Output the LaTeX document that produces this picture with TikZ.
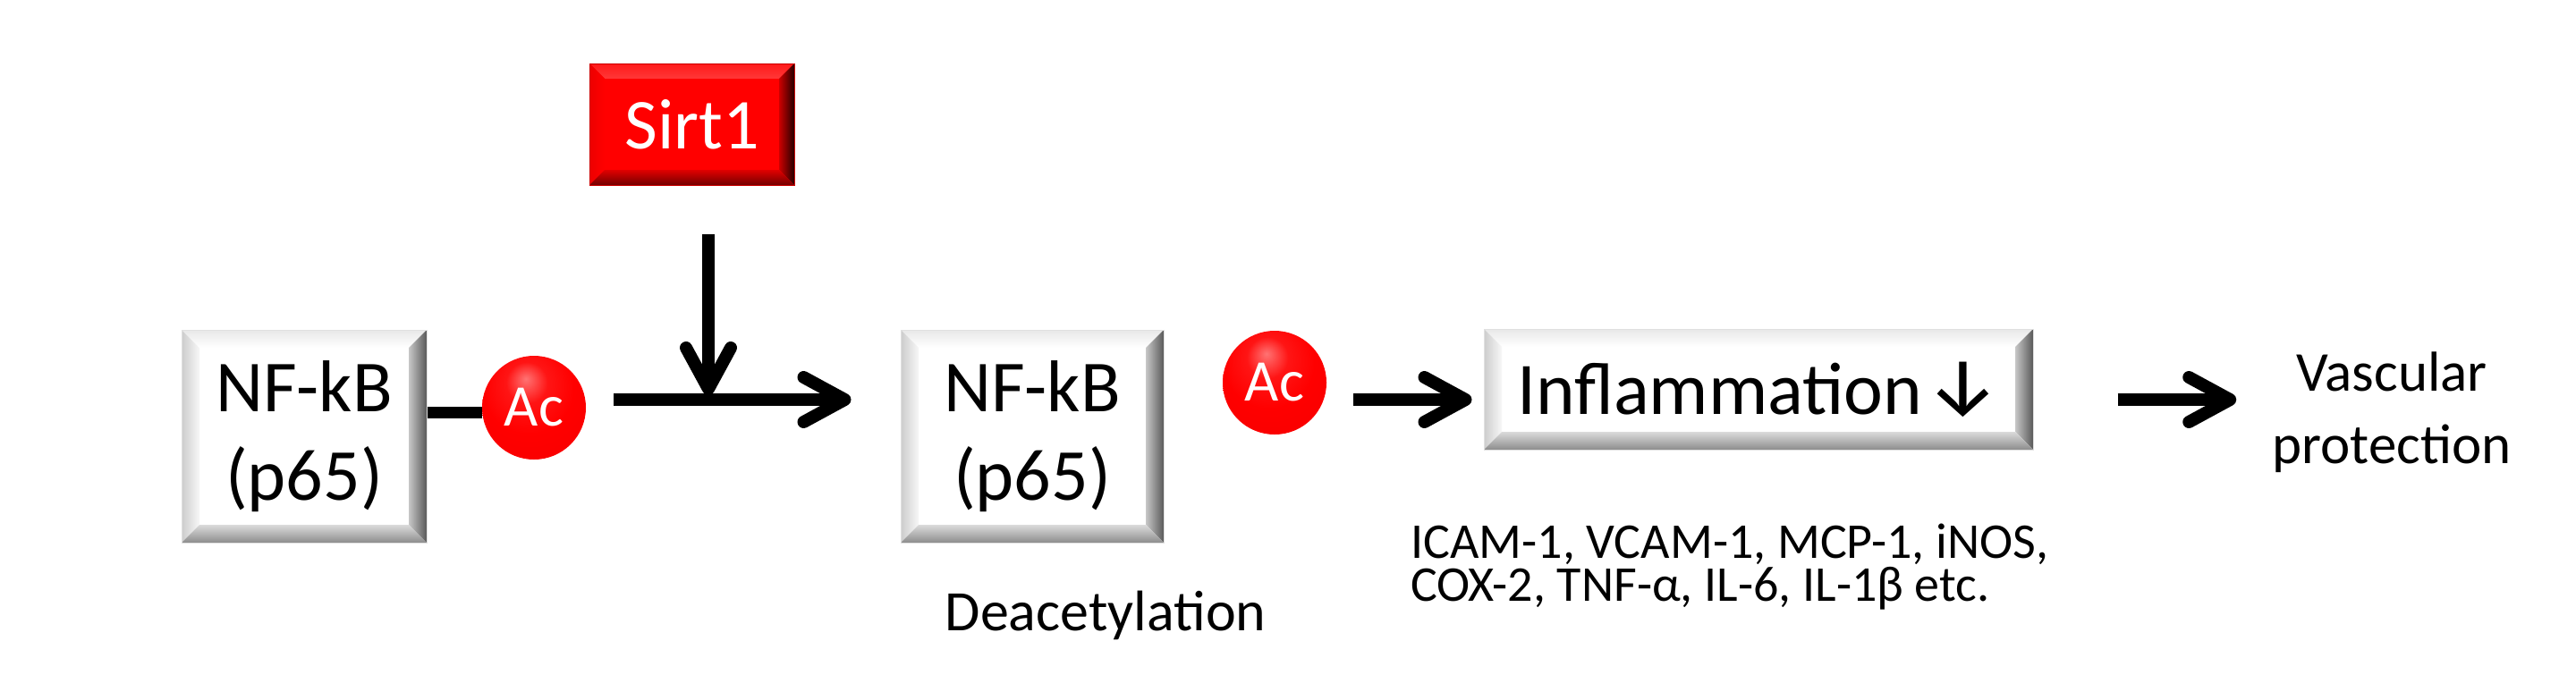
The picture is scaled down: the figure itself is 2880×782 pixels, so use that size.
\documentclass[tikz,border=0pt]{standalone}
\usepackage{fontspec}
\setmainfont{Carlito}
\newfontfamily\symfont{Fira Sans}
\usetikzlibrary{arrows.meta,calc,shadings}
\definecolor{redface}{HTML}{FF0000}
\pgfdeclareradialshading{acshade}{\pgfpoint{-4bp}{14bp}}{%
  color(0bp)=(red!55!white); color(10bp)=(red!92!white); color(22bp)=(red);
  color(44bp)=(red!96!black); color(58bp)=(red!72!black); color(70bp)=(red!55!black)}
\newcommand\drawbevels[9]{%
  \coordinate (bvNW) at (path picture bounding box.north west);
  \coordinate (bvNE) at (path picture bounding box.north east);
  \coordinate (bvSW) at (path picture bounding box.south west);
  \coordinate (bvSE) at (path picture bounding box.south east);
  \coordinate (bvnw) at ([shift={(#1,-#1)}]bvNW);
  \coordinate (bvne) at ([shift={(-#1,-#1)}]bvNE);
  \coordinate (bvsw) at ([shift={(#1,#1)}]bvSW);
  \coordinate (bvse) at ([shift={(-#1,#1)}]bvSE);
  \shade[top color=#2, bottom color=#3] (bvNW) -- (bvNE) -- (bvne) -- (bvnw) -- cycle;
  \shade[left color=#4, right color=#5] (bvNW) -- (bvnw) -- (bvsw) -- (bvSW) -- cycle;
  \shade[left color=#7, right color=#6] (bvNE) -- (bvSE) -- (bvse) -- (bvne) -- cycle;
  \shade[top color=#9, bottom color=#8] (bvSW) -- (bvsw) -- (bvse) -- (bvSE) -- cycle;
}
\tikzset{
  graybox/.style={rectangle, inner sep=0pt, fill=white, draw=black!12, line width=1pt,
    align=center, font=\fontsize{82}{99}\selectfont,
    path picture={\drawbevels{20pt}{black!9}{white}{black!20}{black!3}{black!65}{black!22}{black!45}{black!14}}},
  redbox/.style={rectangle, inner sep=0pt, fill=redface, draw=red!80!black, line width=1pt,
    text=white, font=\fontsize{80}{96}\selectfont,
    path picture={\drawbevels{17pt}{red!90!white}{red!78!white}{red!93!black}{red}{red!15!black}{red!80!black}{red!45!black}{red!88!black}}},
  acball/.style={circle, minimum size=116pt, inner sep=0pt, shading=acshade,
    text=white, font=\fontsize{66}{72}\selectfont},
  arr/.style={line width=14pt, -{Straight Barb[length=46pt, width=50pt, round]}},
  bar/.style={line width=13pt},
  lbl/.style={inner sep=0pt, font=\fontsize{63}{78}\selectfont},
  small/.style={inner sep=0pt, align=left, font=\fontsize{56}{48}\selectfont},
}
\begin{document}
\begin{tikzpicture}[x=1pt, y=1pt]
\useasboundingbox (0,0) rectangle (2880,-782);
% boxes
\node[redbox, minimum width=229pt, minimum height=136pt] (sirt) at (773.5,-139) {Sirt1};
\node[graybox, minimum width=274pt, minimum height=238pt] (nf1) at (340,-488) {NF-kB\\(p65)};
\node[graybox, minimum width=294pt, minimum height=238pt] (nf2) at (1154,-488) {NF-kB\\(p65)};
\node[graybox, minimum width=614pt, minimum height=135pt, font=\fontsize{83}{99}\selectfont] (infl) at (1966,-435.5) {Inflammation\kern 4pt{\symfont\fontsize{92}{100}\selectfont ↓}};
% acetyl groups
\node[acball] (ac1) at (597,-456) {Ac};
\node[acball] (ac2) at (1425,-428) {Ac};
% labels
\node[lbl, anchor=base, font=\fontsize{64}{78}\selectfont] (deac) at (1236,-705) {Deacetylation};
\node[small, anchor=base west] (cyto) at (1577,-672) {ICAM-1, VCAM-1, MCP-1, iNOS,\\COX-2, TNF-α, IL-6, IL-1β etc.};
\node[lbl, anchor=base] (vasc1) at (2674,-437) {Vascular};
\node[lbl, anchor=base] (vasc2) at (2674,-518) {protection};
% connectors
\coordinate (j) at (792,-447);
\draw[bar] ([yshift=27pt]nf1.east) -- ([yshift=27pt]nf1.east -| ac1.west);
\draw[arr, shorten <=31pt, shorten >=55pt] (ac1.east |- j) -- (nf2.west |- j);
\draw[arr, shorten <=54pt, shorten >=5pt] (sirt.south -| j) -- (j);
\draw[arr, shorten <=30pt, shorten >=13pt] (ac2.east |- j) -- (infl.west |- j);
\draw[arr, shorten <=94pt, shorten >=40pt] (infl.east |- j) -- (vasc2.west |- j);
\end{tikzpicture}
\end{document}
